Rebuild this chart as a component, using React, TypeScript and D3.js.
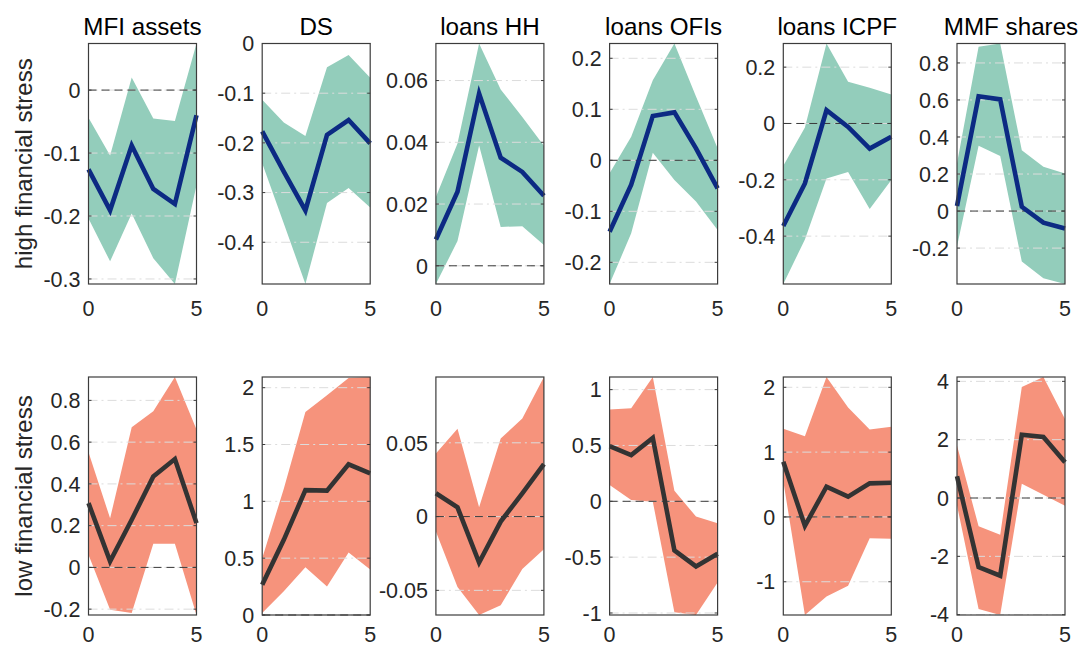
import React from 'react';
import * as d3 from 'd3';

// horizons 0..5
const horizons = [0, 1, 2, 3, 4, 5];
const titles = ['MFI assets', 'DS', 'loans HH', 'loans OFIs', 'loans ICPF', 'MMF shares'];
const rowLabels = ['high financial stress', 'low financial stress'];

// high financial stress: median response and band
const highMid = [
    [-0.126, -0.191, -0.088, -0.157, -0.181, -0.040],
    [-0.177, -0.258, -0.336, -0.184, -0.154, -0.201],
    [0.0085, 0.024, 0.0558, 0.035, 0.0304, 0.0227],
    [-0.140, -0.048, 0.087, 0.094, 0.0235, -0.055],
    [-0.364, -0.213, 0.047, -0.012, -0.089, -0.047],
    [0.027, 0.620, 0.603, 0.023, -0.063, -0.094],
];
const highUp = [
    [-0.044, -0.104, 0.020, -0.045, -0.049, 0.074],
    [-0.113, -0.159, -0.186, -0.048, -0.023, -0.069],
    [0.0223, 0.0396, 0.072, 0.0571, 0.0482, 0.0389],
    [-0.0255, 0.046, 0.157, 0.229, 0.125, 0.0235],
    [-0.150, -0.014, 0.284, 0.148, 0.127, 0.103],
    [0.257, 0.887, 0.905, 0.329, 0.239, 0.203],
];
const highLo = [
    [-0.204, -0.272, -0.196, -0.267, -0.308, -0.151],
    [-0.241, -0.362, -0.484, -0.321, -0.291, -0.330],
    [-0.0059, 0.008, 0.039, 0.0126, 0.0128, 0.0067],
    [-0.2425, -0.143, 0.015, -0.0386, -0.081, -0.1366],
    [-0.570, -0.412, -0.195, -0.172, -0.304, -0.201],
    [-0.192, 0.353, 0.297, -0.273, -0.363, -0.394],
];
const highTicks = [
    [-0.3, -0.2, -0.1, 0],
    [-0.4, -0.3, -0.2, -0.1, 0],
    [0, 0.02, 0.04, 0.06],
    [-0.2, -0.1, 0, 0.1, 0.2],
    [-0.4, -0.2, 0, 0.2],
    [-0.2, 0, 0.2, 0.4, 0.6, 0.8],
];

// low financial stress
const lowMid = [
    [0.308, 0.029, 0.228, 0.436, 0.519, 0.212],
    [0.266, 0.661, 1.099, 1.094, 1.325, 1.246],
    [0.0158, 0.0063, -0.0311, -0.0034, 0.0158, 0.0356],
    [0.494, 0.414, 0.568, -0.440, -0.583, -0.470],
    [0.851, -0.138, 0.467, 0.313, 0.518, 0.528],
    [0.743, -2.366, -2.663, 2.171, 2.091, 1.223],
];
const lowUp = [
    [0.551, 0.235, 0.671, 0.748, 0.912, 0.660],
    [0.5, 1.11, 1.787, 1.933, 2.085, 2.094],
    [0.0428, 0.0595, 0.0063, 0.0529, 0.0664, 0.0946],
    [0.821, 0.833, 1.113, 0.095, -0.137, -0.196],
    [1.359, 1.246, 2.159, 1.687, 1.349, 1.390],
    [1.80, -0.971, -1.257, 3.806, 4.149, 2.709],
];
const lowLo = [
    [0.061, -0.203, -0.219, 0.113, 0.113, -0.228],
    [0.018, 0.208, 0.421, 0.251, 0.550, 0.40],
    [-0.0101, -0.0477, -0.0667, -0.0601, -0.0356, -0.0221],
    [0.146, 0.012, -0.003, -0.994, -1.018, -0.726],
    [0.55, -1.513, -1.226, -1.062, -0.328, -0.338],
    [-0.25, -3.806, -4.011, 0.491, 0.114, -0.263],
];
const lowTicks = [
    [-0.2, 0, 0.2, 0.4, 0.6, 0.8],
    [0, 0.5, 1, 1.5, 2],
    [-0.05, 0, 0.05],
    [-1, -0.5, 0, 0.5, 1],
    [-1, 0, 1, 2],
    [-4, -2, 0, 2, 4],
];

const W = 1081;
const H = 647;
const panelW = 108;
const panelStep = 173.7;
const firstLeft = 88.5;
const rows = [
    { top: 43.5, bottom: 284, band: '#93cdbb', line: '#0c2a83' },
    { top: 377, bottom: 615, band: '#f6937c', line: '#333333' },
];
const font = '"Liberation Sans", Arial, Helvetica, sans-serif';
const txt = '#262626';
const fmt = (v: number) => String(+v.toFixed(4));

interface PanelProps {
    left: number;
    top: number;
    bottom: number;
    mid: number[];
    up: number[];
    lo: number[];
    ticks: number[];
    band: string;
    line: string;
    title?: string;
}

const Panel: React.FC<PanelProps> = ({ left, top, bottom, mid, up, lo, ticks, band, line, title }) => {
    const x = d3.scaleLinear().domain([0, 5]).range([left, left + panelW]);
    const y = d3.scaleLinear()
        .domain([Math.min(0, d3.min(lo)!), Math.max(0, d3.max(up)!)])
        .range([bottom, top]);

    const area = d3.area<number>()
        .x((d, i) => x(horizons[i]))
        .y0((d, i) => y(lo[i]))
        .y1((d) => y(d));
    const path = d3.line<number>()
        .x((d, i) => x(horizons[i]))
        .y((d) => y(d));

    const right = left + panelW;
    // keep the x labels of the lower row inside the picture
    const xLabelY = Math.min(bottom + 31.5, H - 5);
    return (
        <g>
            <path d={area(up)!} fill={band} />
            {ticks.map((t) => (
                <line key={'g' + t} x1={left} x2={right} y1={y(t)} y2={y(t)}
                    stroke="#dcdcdc" strokeWidth={1} strokeDasharray="9,4,2,4" />
            ))}
            <line x1={left} x2={right} y1={y(0)} y2={y(0)}
                stroke="#3a3a3a" strokeWidth={1} strokeDasharray="8,5" />
            <path d={path(mid)!} fill="none" stroke={line} strokeWidth={4.6} strokeLinejoin="miter" />
            <rect x={left} y={top} width={panelW} height={bottom - top}
                fill="none" stroke="#3c3c3c" strokeWidth={1.2} />
            {ticks.map((t) => (
                <g key={'t' + t}>
                    <line x1={left} x2={left + 3} y1={y(t)} y2={y(t)} stroke="#3c3c3c" strokeWidth={1} />
                    <line x1={right - 3} x2={right} y1={y(t)} y2={y(t)} stroke="#3c3c3c" strokeWidth={1} />
                    <text x={left - 8} y={y(t)} dy="0.36em" textAnchor="end"
                        fontSize={21.5} fontFamily={font} fill={txt}>{fmt(t)}</text>
                </g>
            ))}
            {[0, 5].map((h) => (
                <text key={'x' + h} x={x(h)} y={xLabelY} textAnchor="middle"
                    fontSize={21.5} fontFamily={font} fill={txt}>{h}</text>
            ))}
            {title && (
                <text x={(left + right) / 2} y={top - 9} textAnchor="middle"
                    fontSize={24.2} fontFamily={font} fill="#000">{title}</text>
            )}
        </g>
    );
};

const App: React.FC = () => {
    const data = [
        { mid: highMid, up: highUp, lo: highLo, ticks: highTicks },
        { mid: lowMid, up: lowUp, lo: lowLo, ticks: lowTicks },
    ];
    return (
        <svg width={W} height={H} style={{ position: 'absolute', left: 0, top: 0, background: '#fff' }}>
            {rows.map((r, ri) => (
                <g key={ri}>
                    <text transform={`translate(32,${(r.top + r.bottom) / 2}) rotate(-90)`}
                        textAnchor="middle" fontSize={24} fontFamily={font} fill={txt}>
                        {rowLabels[ri]}
                    </text>
                    {titles.map((t, i) => (
                        <Panel key={t}
                            left={firstLeft + i * panelStep}
                            top={r.top}
                            bottom={r.bottom}
                            mid={data[ri].mid[i]}
                            up={data[ri].up[i]}
                            lo={data[ri].lo[i]}
                            ticks={data[ri].ticks[i]}
                            band={r.band}
                            line={r.line}
                            title={ri === 0 ? t : undefined}
                        />
                    ))}
                </g>
            ))}
        </svg>
    );
};

export default App;
